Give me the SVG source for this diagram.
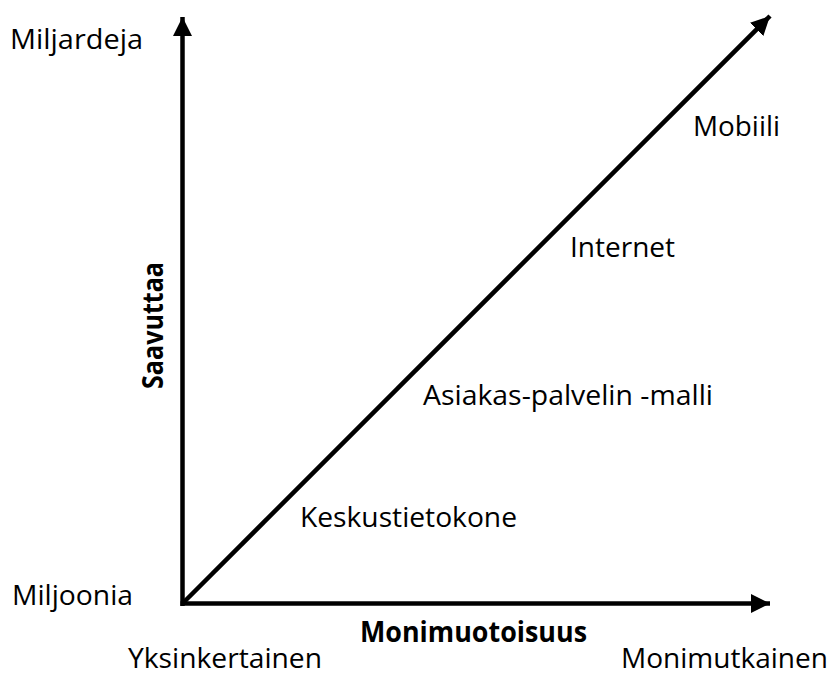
<svg xmlns="http://www.w3.org/2000/svg" width="832" height="675" viewBox="0 0 832 675">
<defs>
<style>
.lbl{font-family:"Open Sans","Liberation Sans",sans-serif;font-size:28px;fill:#000}
.b{font-weight:bold}
.ax{stroke:#000;stroke-width:4.5;fill:none}
</style>
<marker id="ah" markerUnits="userSpaceOnUse" markerWidth="19" markerHeight="19" viewBox="0 0 18 18" refX="18" refY="9" orient="auto">
<path d="M0,0 L18,9 L0,18 z" fill="#000"/>
</marker>
</defs>
<rect width="832" height="675" fill="#fff"/>
<g id="connectors">
<line class="ax" x1="182.5" y1="606" x2="182.5" y2="17" marker-end="url(#ah)"/>
<line class="ax" x1="180.5" y1="603.5" x2="770" y2="603.5" marker-end="url(#ah)"/>
<line class="ax" x1="182.5" y1="603.5" x2="770" y2="16" marker-end="url(#ah)"/>
</g>
<g id="axis-labels">
<text class="lbl" x="10" y="49" textLength="133" lengthAdjust="spacingAndGlyphs">Miljardeja</text>
<text class="lbl" x="12" y="605" textLength="121" lengthAdjust="spacingAndGlyphs">Miljoonia</text>
<text class="lbl" x="128" y="668" textLength="194" lengthAdjust="spacingAndGlyphs">Yksinkertainen</text>
<text class="lbl" x="621" y="668" textLength="207" lengthAdjust="spacingAndGlyphs">Monimutkainen</text>
<text class="lbl b" x="360" y="642" textLength="227" lengthAdjust="spacingAndGlyphs">Monimuotoisuus</text>
<text class="lbl b" transform="translate(163,389) rotate(-90)" x="0" y="0" textLength="127" lengthAdjust="spacingAndGlyphs">Saavuttaa</text>
</g>
<g id="node-keskustietokone"><text class="lbl" x="300" y="527" textLength="217" lengthAdjust="spacingAndGlyphs">Keskustietokone</text></g>
<g id="node-asiakas"><text class="lbl" x="423" y="405" textLength="290" lengthAdjust="spacingAndGlyphs">Asiakas-palvelin -malli</text></g>
<g id="node-internet"><text class="lbl" x="570" y="257" textLength="105" lengthAdjust="spacingAndGlyphs">Internet</text></g>
<g id="node-mobiili"><text class="lbl" x="693" y="136" textLength="87" lengthAdjust="spacingAndGlyphs">Mobiili</text></g>
</svg>
